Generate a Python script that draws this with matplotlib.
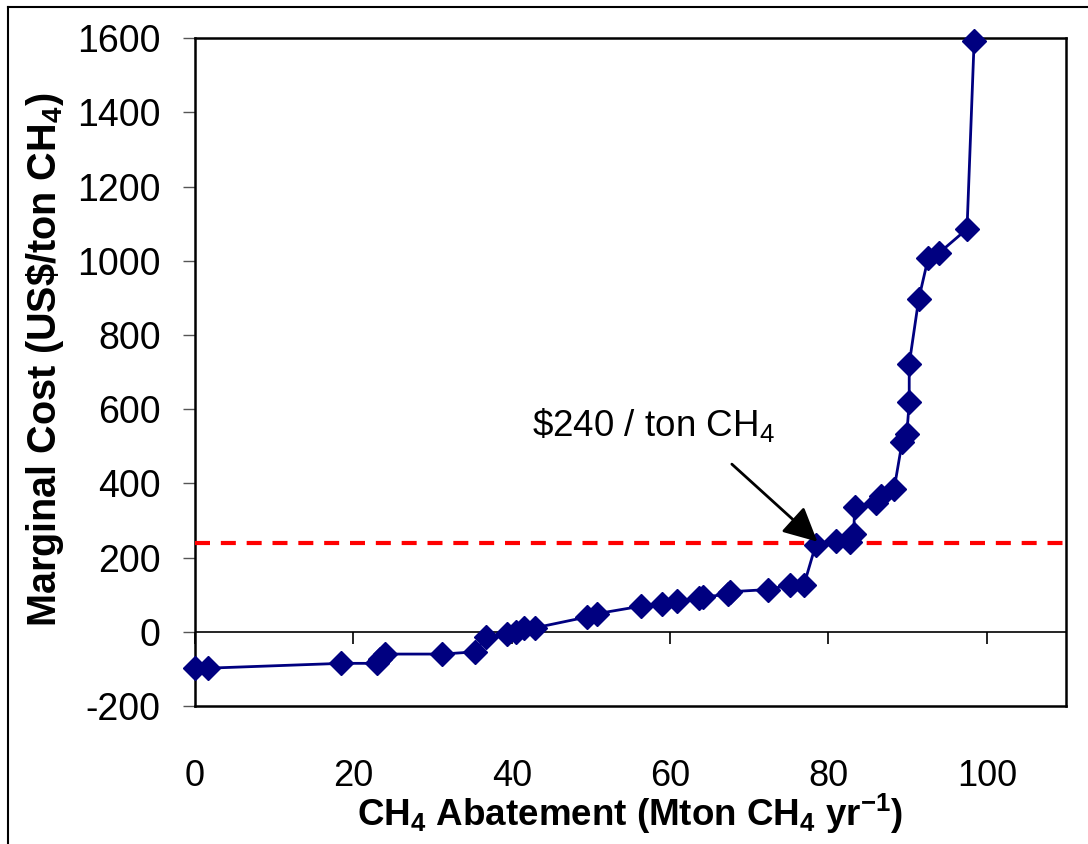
import matplotlib
matplotlib.use('Agg')
import matplotlib.pyplot as plt
from matplotlib import font_manager
from matplotlib.lines import Line2D

# data
abatement = [0, 1.7, 18.5, 23.0, 23.4, 24.0, 31.2, 35.4, 36.7, 39.4, 40.5, 41.5, 43.0,
             49.5, 50.8, 56.3, 59.0, 60.85, 63.6, 64.2, 67.3, 67.6, 72.4, 75.1, 76.9,
             78.4, 80.9, 82.7, 83.2, 83.3, 86.0, 86.6, 88.3, 89.3, 89.9, 90.2, 90.2,
             91.4, 92.6, 93.9, 97.5, 98.4]
marginal_cost = [-98, -98, -85, -85, -74, -60, -60, -54, -15, -6, 0, 11, 11,
                 40, 49, 69, 75, 83, 90, 94, 101, 108, 114, 126, 126,
                 235, 244, 242, 265, 336, 347, 366, 386, 511, 534, 619, 722,
                 897, 1008, 1020, 1086, 1594]
price_line = 240
xticks = [0, 20, 40, 60, 80, 100]
yticks = [-200, 0, 200, 400, 600, 800, 1000, 1200, 1400, 1600]

names = {f.name for f in font_manager.fontManager.ttflist}
narrow = 'Liberation Sans Narrow' if 'Liberation Sans Narrow' in names else 'Liberation Sans'
plt.rcParams['font.family'] = ['Liberation Sans', 'DejaVu Sans']
plt.rcParams['mathtext.default'] = 'regular'
plt.rcParams['axes.unicode_minus'] = False

fig = plt.figure(figsize=(10.88, 8.44), dpi=100)
ax = fig.add_axes([195/1088, 1-706/844, 871/1088, 667.7/844])

ax.plot(abatement, marginal_cost, color='#000080', lw=2, marker='D', ms=12.5,
        mfc='#000080', mec='#000080', zorder=4, clip_on=False)
ax.axhline(price_line, color='#ff0000', lw=3, ls=(0, (3.6, 2.6)), zorder=3)
ax.axhline(0, color='black', lw=1.2, zorder=2)
# excel style ticks sitting on the zero line
ax.plot(xticks, [0]*len(xticks), ls='none', marker=3, ms=8.6, mew=1.2,
        color='black', clip_on=False, zorder=2)

ax.annotate('', xy=(78.6, 243), xytext=(67.8, 452),
            arrowprops=dict(arrowstyle='-|>', color='black', lw=2,
                            mutation_scale=52, shrinkA=0, shrinkB=0), zorder=5)
ax.text(42.5, 557, r'\$240 / ton CH$_4$', fontsize=26.5, ha='left', va='center')

ax.set_xlim(0, 110)
ax.set_ylim(-200, 1600)
ax.set_xticks(xticks)
ax.set_yticks(yticks)
for lbl in ax.get_xticklabels():
    lbl.set_fontfamily(narrow)
ax.tick_params(axis='x', length=0, pad=38, labelsize=26)
ax.tick_params(axis='y', direction='out', length=8.6, width=1, color='#555555',
               pad=16, labelsize=27)
for sp in ax.spines.values():
    sp.set_linewidth(1.8)
    sp.set_color('black')

ax.set_xlabel('CH$_4$ Abatement (Mton CH$_4$ yr$^{-1}$)', fontfamily=narrow,
              fontweight='bold', fontsize=26.5)
ax.set_ylabel('Marginal Cost (US$\\$$/ton CH$_4$)', fontfamily=narrow,
              fontweight='bold', fontsize=28.5)
ax.xaxis.set_label_coords(0.5, -0.128)
ax.yaxis.set_label_coords(-0.148, 0.518)

# partial frame round the figure
fig.add_artist(Line2D([8/1088, 8/1088], [0, 1-7/844], transform=fig.transFigure,
                      color='black', lw=1.5))
fig.add_artist(Line2D([8/1088, 1], [1-7/844, 1-7/844], transform=fig.transFigure,
                      color='black', lw=1.5))

fig.savefig('out.png', dpi=100)
